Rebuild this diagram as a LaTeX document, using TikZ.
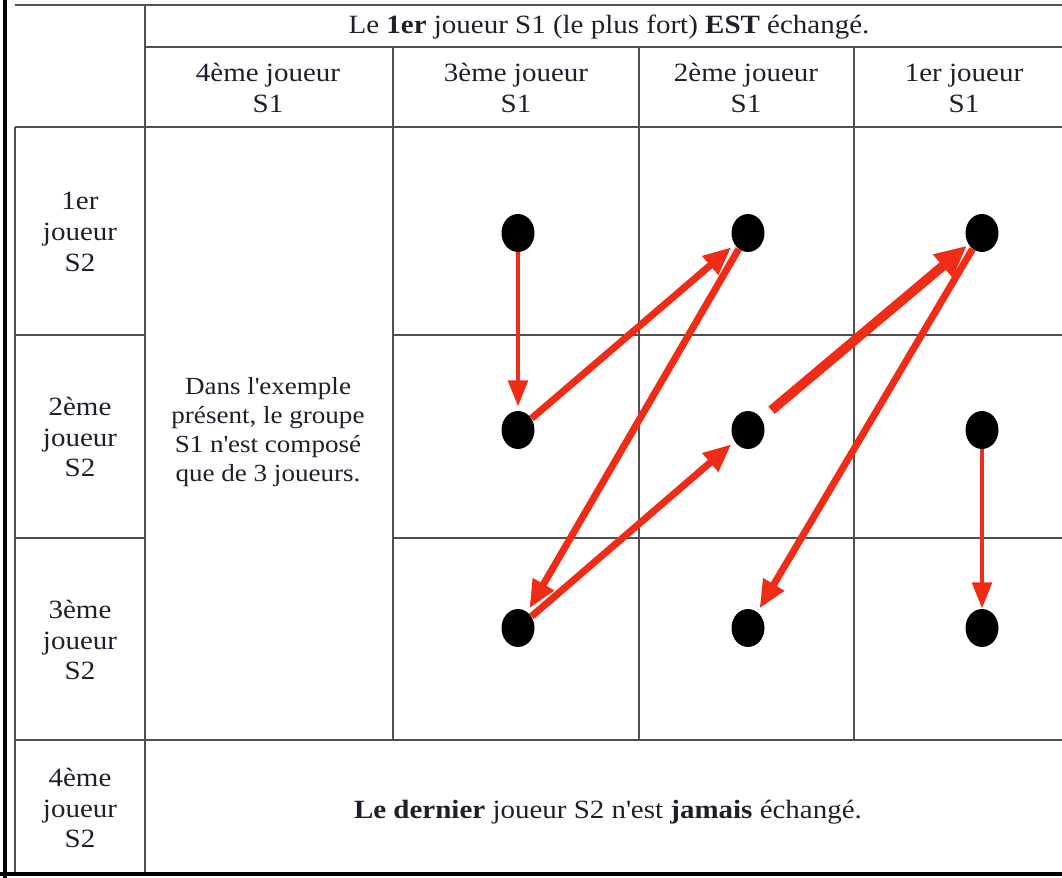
\documentclass[tikz,border=0pt]{standalone}
\usepackage{fontspec}
\setmainfont{Liberation Serif}[FakeStretch=1.1]
\usepackage{xcolor}
\usepackage{tikz}
\usetikzlibrary{arrows.meta, shapes.geometric}

\definecolor{gridgray}{RGB}{80,80,80}
\definecolor{inkblack}{RGB}{32,30,42}
\definecolor{swapred}{RGB}{240,44,22}

\begin{document}
\begin{tikzpicture}[
x=0.02cm, y=-0.02cm,
grid/.style={draw=gridgray, line width=1.1pt},
frame/.style={draw=black, line width=2.2pt},
txt/.style={align=center, inner sep=0pt, text=inkblack,
    font=\fontsize{15}{17.6}\selectfont},
note/.style={txt, font=\fontsize{14}{16.5}\selectfont},
dot/.style={ellipse, fill=black, inner sep=0pt,
    minimum width=0.66cm, minimum height=0.76cm},
arrow/.style={-{Triangle[length=16pt, width=13pt]}, draw=swapred,
    line width=4pt, shorten >=0.08cm},
thinarrow/.style={arrow, line width=2.8pt, -{Triangle[length=15pt, width=11pt]}},
boldarrow/.style={arrow, line width=5.5pt, -{Triangle[length=18pt, width=16pt]}}
]

\useasboundingbox (0,0) rectangle (1062,878);
\clip (0,0) rectangle (1062,878);
\fill[white] (0,0) rectangle (1062,878);

% table lines
\draw[grid] (15,5) -- (1074,5);
\draw[grid] (145,5) -- (145,874);
\draw[grid] (145,47) -- (1074,47);
\draw[grid] (15,127) -- (1074,127);
\draw[grid] (15,127) -- (15,874);
\draw[grid] (393,47) -- (393,740);
\draw[grid] (639,47) -- (639,740);
\draw[grid] (854,47) -- (854,740);
\draw[grid] (15,335) -- (145,335) (393,335) -- (1074,335);
\draw[grid] (15,538) -- (145,538) (393,538) -- (1074,538);
\draw[grid] (15,740) -- (1074,740);
\draw[frame] (5,0) -- (5,878);
\draw[frame] (0,874) -- (1074,874);

% headers
\node (titre) [txt] at (609,27) {Le \textbf{1er} joueur S1 (le plus fort) \textbf{EST} échangé.};
\node (h4) [txt] at (268,88) {4ème joueur\\S1};
\node (h3) [txt] at (516,88) {3ème joueur\\S1};
\node (h2) [txt] at (746,88) {2ème joueur\\S1};
\node (h1) [txt] at (964,88) {1er joueur\\S1};

% S2 rows
\node (r1) [txt] at (80,232) {1er\\joueur\\S2};
\node (r2) [txt] at (80,437) {2ème\\joueur\\S2};
\node (r3) [txt] at (80,640) {3ème\\joueur\\S2};
\node (r4) [txt] at (80,808) {4ème\\joueur\\S2};

\node (exemple) [note] at (268,432) {Dans l\textquotesingle exemple\\présent, le groupe\\S1 n\textquotesingle est composé\\que de 3 joueurs.};
\node (dernier) [txt] at (608,812) {\textbf{Le dernier} joueur S2 n\textquotesingle est \textbf{jamais} échangé.};

% players
\node (p11) [dot] at (518,233) {};
\node (p12) [dot] at (748,233) {};
\node (p13) [dot] at (982,233) {};
\node (p21) [dot] at (518,430) {};
\node (p22) [dot] at (748,430) {};
\node (p23) [dot] at (982,430) {};
\node (p31) [dot] at (518,628) {};
\node (p32) [dot] at (748,628) {};
\node (p33) [dot] at (982,628) {};

% swaps
\draw[thinarrow] (p11) -- (p21);
\draw[arrow] (p21) -- (p12);
\draw[arrow] (p12) -- (p31);
\draw[arrow] (p31) -- (p22);
\draw[boldarrow, shorten <=0.26cm, shorten >=0.04cm] (p22) -- (p13);
\draw[arrow] (p13) -- (p32);
\draw[thinarrow, shorten >=0cm] (p23) -- (p33);

\end{tikzpicture}
\end{document}
